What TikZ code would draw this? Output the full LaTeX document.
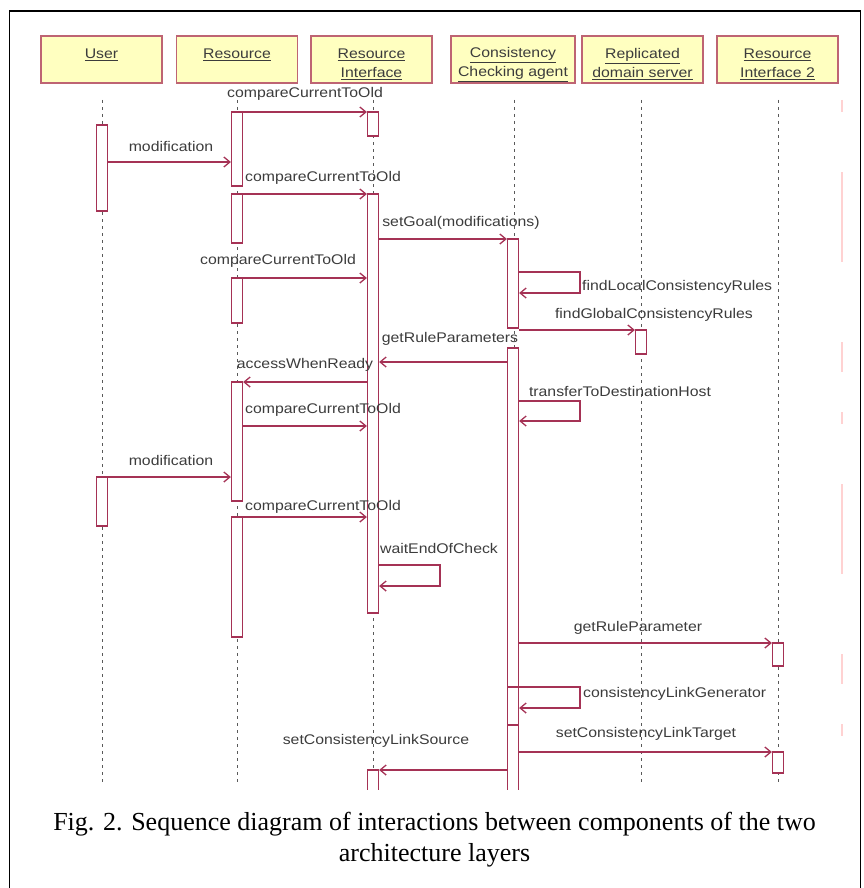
\documentclass[tikz,border=0pt]{standalone}
\usepackage{fontspec}
\setmainfont{Liberation Serif}
\newfontfamily\umlfont[FakeStretch=1.13]{Liberation Sans}
\usetikzlibrary{arrows.meta}

\definecolor{umlred}{RGB}{165,50,85}
\definecolor{boxline}{RGB}{190,100,115}
\definecolor{boxfill}{RGB}{255,255,192}
\definecolor{textgrey}{RGB}{60,60,60}

% two-line head text, set a little low in its box
\newcommand{\headtext}[2]{\rule{0pt}{20pt}\underline{#1}\\\underline{#2}}

\begin{document}
\begin{tikzpicture}[x=1pt, y=-1pt,
		head/.style={draw=boxline, line width=1.3pt, fill=boxfill, minimum width=121pt, minimum height=47pt, inner sep=0pt, align=center, text=textgrey, font=\umlfont\fontsize{14}{19}\selectfont},
		bar/.style={draw=umlred, line width=1.3pt, fill=white, minimum width=11pt, inner sep=0pt},
		msg/.style={draw=umlred, line width=1.3pt, -{Straight Barb[length=6pt, width=10pt]}},
		life/.style={draw=black!65, line width=0.8pt, dash pattern=on 3pt off 4pt},
		lbl/.style={inner sep=0pt, text=textgrey, font=\umlfont\fontsize{14}{14}\selectfont}]
	\useasboundingbox (0,0) rectangle (863,888);
	\fill[white] (0,0) rectangle (863,888);
	\draw[line width=1.6pt] (9.5,890) -- (9.5,11) -- (860.5,11) -- (860.5,890);
	
	% heads
	\node[head] (u) at (101.5,59.5) {\headtext{User}{}};
	\node[head] (r) at (237,59.5) {\headtext{Resource}{}};
	\node[head] (ri) at (371.5,59.5) {\headtext{Resource}{Interface}};
	\node[head, minimum width=124pt] (cc) at (513,59.5) {\headtext{Consistency}{Checking agent}};
	\node[head] (rd) at (642.5,59.5) {\headtext{Replicated}{domain server}};
	\node[head] (rt) at (777.5,59.5) {\headtext{Resource}{Interface 2}};
	
	\draw[pink!70, line width=2pt, dash pattern=on 12pt off 60pt on 90pt off 80pt on 30pt off 40pt] (842,100) -- (842,790);
	
	\begin{scope}
		\clip (0,0) rectangle (863,789);
		% lifelines
		\foreach \n/\x in {u/102, r/237, ri/373, cc/514, rd/641, rt/778}
			\draw[life] (\x,100) -- (\x,783);
		% activations
		\foreach \n/\x/\t/\b in {u1/102/125/211, u2/102/477/526,
				r1/237/112/186, r2/237/194/243, r3/237/278/323, r4/237/382/501, r5/237/517/637,
				ri1/373/112/136, ri2/373/194/613, ri3/373/770/800,
				cc1/513/239/328, cc2/513/348/800, cc3/513/687/725,
				rd1/641/330/354, rt1/778/643/666, rt2/778/752/773}
			\node[bar, minimum height=\b-\t] (\n) at (\x,{(\t+\b)/2}) {};
		
		% messages
		\foreach \a/\b/\y in {r1.east/ri1.west/112, u1.east/r1.west/162, r2.east/ri2.west/194,
				ri2.east/cc1.west/239, r3.east/ri2.west/278, cc1.east/rd1.west/330,
				cc2.west/ri2.east/362, ri2.west/r4.east/382, r4.east/ri2.west/426,
				u2.east/r4.west/477, r5.east/ri2.west/517, cc2.east/rt1.west/643,
				cc2.east/rt2.west/752, cc2.west/ri3.east/770}
			\draw[msg] (\a |- 0,\y) -- (\b |- 0,\y);
		
		% calls to self
		\foreach \a/\t/\b/\x in {cc1/272/293/580, cc2/401/421/580, ri2/565/586/440, cc2/687/708/580}
			\draw[msg] (\a.east |- 0,\t) -- (\x,\t) -- (\x,\b) -- (\a.east |- 0,\b);
	\end{scope}
	
	% labels
	\foreach \i/\x/\y/\t in {1/305/94/compareCurrentToOld, 2/171/146/modification,
			3/323/178/compareCurrentToOld, 4/461/223/setGoal(modifications),
			5/278/261/compareCurrentToOld, 7/654/315/findGlobalConsistencyRules,
			8/450/339/getRuleParameters, 9/305/365/accessWhenReady,
			10/620/391/transferToDestinationHost, 11/323/410/compareCurrentToOld,
			12/171/460/modification, 13/323/507/compareCurrentToOld,
			14/439/548/waitEndOfCheck, 15/638/628/getRuleParameter,
			17/646/734/setConsistencyLinkTarget, 18/376/741/setConsistencyLinkSource}
		\node[lbl] (l\i) at (\x,\y) {\t};
	\node[lbl, anchor=west] (l6) at (582,287) {findLocalConsistencyRules};
	\node[lbl, anchor=west] (l16) at (583,694) {consistencyLinkGenerator};
	
	% caption
	\node[align=center, font=\fontsize{26}{31}\selectfont] (cap) at (434.5,840) {Fig. 2. Sequence diagram of interactions between components of the two\\architecture layers};
\end{tikzpicture}
\end{document}
